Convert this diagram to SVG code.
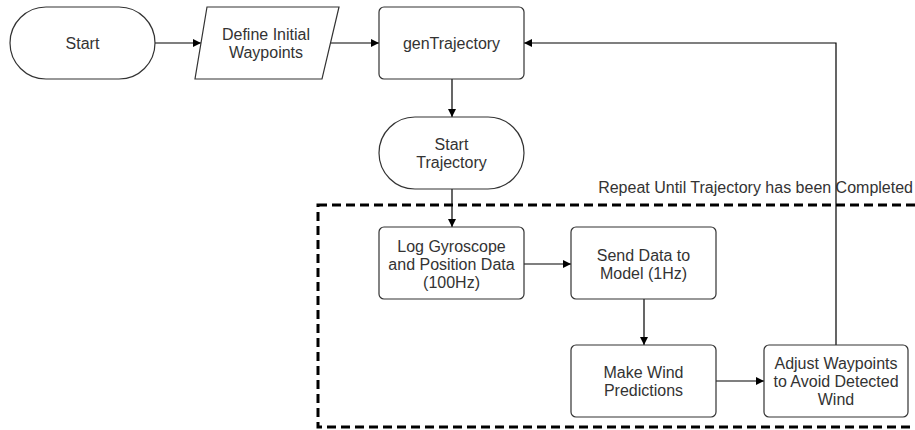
<svg xmlns="http://www.w3.org/2000/svg" width="915" height="430" viewBox="0 0 915 430">
<defs>
<style>
.shape{fill:#ffffff;stroke:#333333;stroke-width:1.2}
.t{font-family:"Liberation Sans",Arial,sans-serif;font-size:16px;fill:#333333;text-anchor:middle;dominant-baseline:central}
.edge{fill:none;stroke:#000000;stroke-width:1.2}
.dash{fill:none;stroke:#000000;stroke-width:3;stroke-dasharray:9,5}
</style>
<marker id="arr" viewBox="0 0 10 10" refX="10" refY="5" markerWidth="8" markerHeight="8" markerUnits="userSpaceOnUse" orient="auto">
<path d="M0,0 L10,5 L0,10 z" fill="#000000"/>
</marker>
</defs>
<rect width="915" height="430" fill="#ffffff"/>
<g id="loop">
<rect class="dash" x="318" y="205" width="640" height="222"/>
<text class="t" x="913" y="187" style="text-anchor:end">Repeat Until Trajectory has been Completed</text>
</g>
<g id="connectors">
<line class="edge" x1="155" y1="43" x2="201" y2="43" marker-end="url(#arr)"/>
<line class="edge" x1="331" y1="43" x2="379" y2="43" marker-end="url(#arr)"/>
<line class="edge" x1="452" y1="79" x2="452" y2="117" marker-end="url(#arr)"/>
<line class="edge" x1="452" y1="189" x2="452" y2="227" marker-end="url(#arr)"/>
<line class="edge" x1="524" y1="264" x2="571" y2="264" marker-end="url(#arr)"/>
<line class="edge" x1="644" y1="299" x2="644" y2="345" marker-end="url(#arr)"/>
<line class="edge" x1="716" y1="381" x2="764" y2="381" marker-end="url(#arr)"/>
<polyline class="edge" points="836,345 836,43 524,43" marker-end="url(#arr)"/>
</g>
<g id="start">
<rect class="shape" x="10" y="7" width="145" height="72" rx="36" ry="36"/>
<text class="t" x="82.5" y="43">Start</text>
</g>
<g id="define">
<polygon class="shape" points="207,7 339,7 322,79 195,79"/>
<text class="t" x="266" y="34">Define Initial</text>
<text class="t" x="266" y="52">Waypoints</text>
</g>
<g id="gen">
<rect class="shape" x="379" y="7" width="145" height="72" rx="5" ry="5"/>
<text class="t" x="451.5" y="43">genTrajectory</text>
</g>
<g id="starttraj">
<rect class="shape" x="379" y="117" width="145" height="72" rx="36" ry="36"/>
<text class="t" x="451.5" y="144">Start</text>
<text class="t" x="451.5" y="162">Trajectory</text>
</g>
<g id="log">
<rect class="shape" x="379" y="227" width="145" height="72" rx="5" ry="5"/>
<text class="t" x="451.5" y="246">Log Gyroscope</text>
<text class="t" x="451.5" y="264">and Position Data</text>
<text class="t" x="451.5" y="282">(100Hz)</text>
</g>
<g id="send">
<rect class="shape" x="571" y="227" width="145" height="72" rx="5" ry="5"/>
<text class="t" x="643.5" y="255">Send Data to</text>
<text class="t" x="643.5" y="273">Model (1Hz)</text>
</g>
<g id="predict">
<rect class="shape" x="571" y="345" width="145" height="72" rx="5" ry="5"/>
<text class="t" x="643.5" y="372">Make Wind</text>
<text class="t" x="643.5" y="390">Predictions</text>
</g>
<g id="adjust">
<rect class="shape" x="764" y="345" width="144" height="72" rx="5" ry="5"/>
<text class="t" x="836" y="363">Adjust Waypoints</text>
<text class="t" x="836" y="381">to Avoid Detected</text>
<text class="t" x="836" y="399">Wind</text>
</g>
</svg>
